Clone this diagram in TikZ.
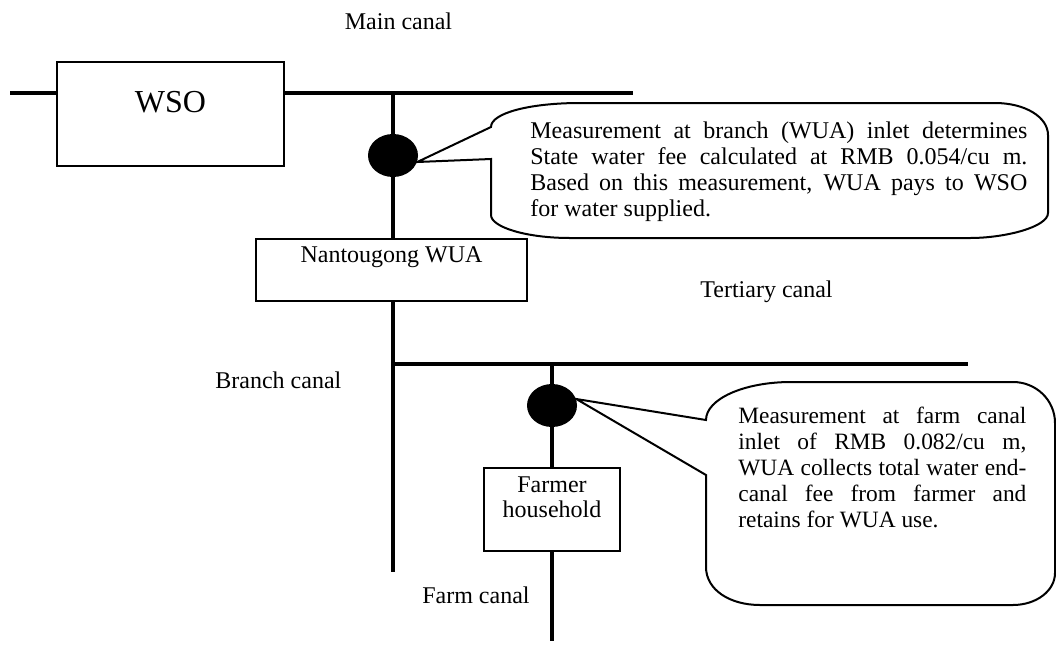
\documentclass[tikz,border=0pt]{standalone}
\usepackage{fontspec}
\setmainfont{Liberation Serif}
\usetikzlibrary{shapes.geometric}
\usetikzlibrary{positioning}

\begin{document}
\begin{tikzpicture}[x=0.5pt,y=-0.5pt,
    canal/.style={line width=2pt},
    box/.style={draw,line width=0.8pt,fill=white,inner sep=0pt},
    meter/.style={ellipse,fill=black,minimum width=25pt,minimum height=21.5pt,inner sep=0pt},
    bubble/.style={draw,line width=1pt},
    note/.style={inner sep=0pt,align=justify,font=\fontsize{12}{13}\selectfont},
    lbl/.style={inner sep=0pt,font=\fontsize{12}{13}\selectfont}]
    \useasboundingbox (0,0) rectangle (1056,649);

    % Canal ends
    \coordinate (mainW) at (10,93);
    \coordinate (mainE) at (633,93);
    \coordinate (brN) at (393,93);
    \coordinate (brS) at (393,572);
    \coordinate (terW) at (393,364);
    \coordinate (terE) at (968,364);
    \coordinate (farmN) at (552,364);
    \coordinate (farmS) at (552,641);

    \draw [canal] (mainW) -- (mainE);
    \draw [canal] (brN) -- (brS);
    \draw [canal] (terW) -- (terE);
    \draw [canal] (farmN) -- (farmS);

    % Place nodes
    \node [box,anchor=base,minimum width=113.5pt,text height=25pt,text depth=27pt,font=\fontsize{16}{18}\selectfont] (wso) at (170.5,112) {WSO};
    \node [box,anchor=base,minimum width=135.5pt,text height=11.5pt,text depth=19.5pt,font=\fontsize{12}{13}\selectfont] (wua) at (391.5,262) {Nantougong WUA};
    \node [box,anchor=base,text width=68pt,align=center,text height=12pt,text depth=29.5pt,font=\fontsize{12}{12.5}\selectfont] (farmer) at (552,492) {Farmer\\household};
    \node [meter] (m1) at (393,155.5) {};
    \node [meter] (m2) at (552,405.5) {};

    % Callouts
    \draw [bubble] (491,159) -- (m1.-15) -- (491,127)
        .. controls (491,113) and (530,103) .. (580,103) -- (995,103)
        .. controls (1025,103) and (1048,117) .. (1048,135) -- (1048,213)
        .. controls (1048,227) and (1005,238) .. (970,238) -- (570,238)
        .. controls (526,238) and (491,227) .. (491,215) -- cycle;
    \draw [bubble] (706,475) -- (m2.15) -- (706,420)
        .. controls (706,399) and (744,382) .. (791,382) -- (1013,382)
        .. controls (1036,382) and (1055,400) .. (1055,423) -- (1055,573)
        .. controls (1055,591) and (1036,605) .. (1013,605) -- (760,605)
        .. controls (730,605) and (706,590) .. (706,567) -- cycle;

    \node [note,text width=248.5pt,anchor=base west] (note1) at (530,138) {Measurement at branch (WUA) inlet determines\linebreak State water fee calculated at RMB 0.054/cu m.\linebreak Based on this measurement, WUA pays to WSO\linebreak for water supplied.};
    \node [note,text width=144pt,anchor=base west,font=\fontsize{11.7}{13}\selectfont] (note2) at (738,423) {Measurement at farm canal\linebreak inlet of RMB 0.082/cu m,\linebreak WUA collects total water end-\linebreak canal fee from farmer and\linebreak retains for WUA use.};

    % Canal names
    \node [lbl,anchor=base] (mainlbl) at (398.5,29) {Main canal};
    \node [lbl,anchor=base west] (terlbl) at (700,297) {Tertiary canal};
    \node [lbl,anchor=base west] (brlbl) at (215,388) {Branch canal};
    \node [lbl,anchor=base east] (farmlbl) at (530,603) {Farm canal};
\end{tikzpicture}
\end{document}
